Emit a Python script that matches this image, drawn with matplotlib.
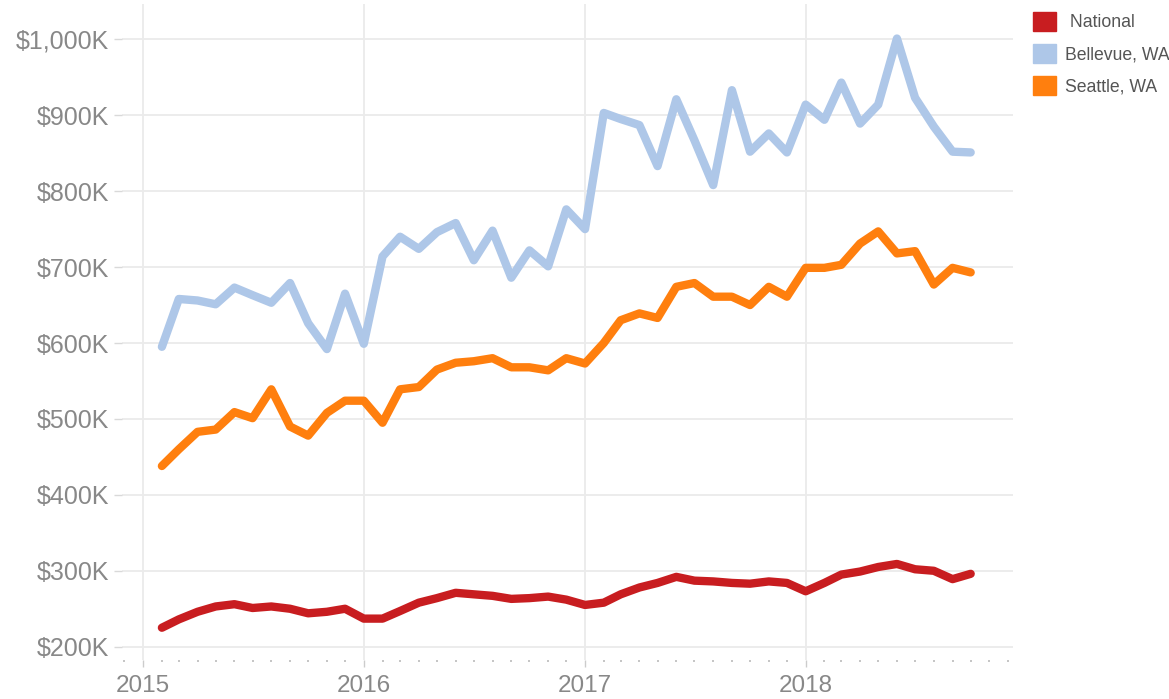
import datetime as dt
import matplotlib
matplotlib.use('Agg')
import matplotlib.pyplot as plt
import matplotlib.dates as mdates
from matplotlib.patches import Patch
from matplotlib.ticker import FuncFormatter, MultipleLocator

plt.rcParams['font.family'] = ['Liberation Sans', 'DejaVu Sans']

# monthly median prices, Feb 2015 .. Oct 2018 (in $K)
months = [dt.date(2015 + (m - 1) // 12, (m - 1) % 12 + 1, 1) for m in range(2, 47)]

national = [225, 236, 246, 253, 256, 251, 253, 250, 244, 246,
            250, 237, 237, 247, 258, 264, 271, 269, 267, 263,
            264, 266, 262, 255, 258, 269, 278, 284, 292, 287,
            286, 284, 283, 286, 284, 273, 284, 295, 299, 305,
            309, 302, 300, 289, 296]
bellevue = [595, 658, 656, 651, 673, 663, 653, 679, 626, 592,
            665, 599, 714, 740, 724, 746, 758, 709, 748, 686,
            722, 701, 776, 750, 903, 895, 887, 833, 921, 867,
            808, 933, 852, 876, 851, 914, 894, 943, 889, 914,
            1001, 923, 885, 852, 851]
seattle = [438, 460, 483, 486, 509, 501, 539, 490, 478, 508,
           524, 524, 495, 539, 542, 565, 574, 576, 580, 568,
           568, 564, 580, 573, 600, 630, 639, 633, 674, 679,
           661, 661, 650, 674, 661, 699, 699, 703, 731, 747,
           718, 721, 677, 699, 693]

series = [(' National', national, '#c81d20'),
          ('Bellevue, WA', bellevue, '#aec7e8'),
          ('Seattle, WA', seattle, '#ff7f0e')]

W, H = 1169, 699
fig = plt.figure(figsize=(W / 100, H / 100), dpi=100)
ax = fig.add_axes([122 / W, 1 - 660 / H, (1013 - 122) / W, (660 - 4) / H])

for name, vals, color in series:
    ax.plot(months, vals, color=color, lw=6, solid_capstyle='round',
            solid_joinstyle='round', zorder=3)

ax.set_ylim(182.5, 1046.5)
ax.set_xlim(dt.date(2014, 11, 27), dt.date(2018, 12, 10))

ax.yaxis.set_major_locator(MultipleLocator(100))
ax.yaxis.set_major_formatter(FuncFormatter(lambda v, p: '${:,.0f}K'.format(v)))
ax.xaxis.set_major_locator(mdates.YearLocator())
ax.xaxis.set_major_formatter(mdates.DateFormatter('%Y'))
ax.xaxis.set_minor_locator(mdates.MonthLocator())

ax.grid(True, which='major', color='#ebebeb', lw=1.3, zorder=0)
for s in ax.spines.values():
    s.set_visible(False)

ax.tick_params(axis='y', which='major', labelsize=18, labelcolor='#888888',
               color='#d9d9d9', length=6, width=1, pad=3)
ax.tick_params(axis='x', which='major', labelsize=17.5, labelcolor='#888888',
               color='#cccccc', length=5, width=1, pad=6)
ax.tick_params(axis='x', which='minor', color='#bbbbbb', length=1.2, width=1.2)

handles = [Patch(facecolor=c, edgecolor=c, label=n) for n, v, c in series]
fig.legend(handles=handles, loc='upper left', bbox_to_anchor=(1017 / W, 1 + 4 / H),
           frameon=False, fontsize=12.7, labelcolor='#555555',
           handlelength=1.3, handleheight=1.3, handletextpad=0.5,
           labelspacing=0.7, borderpad=0.4)

fig.savefig('out.png', dpi=100)
